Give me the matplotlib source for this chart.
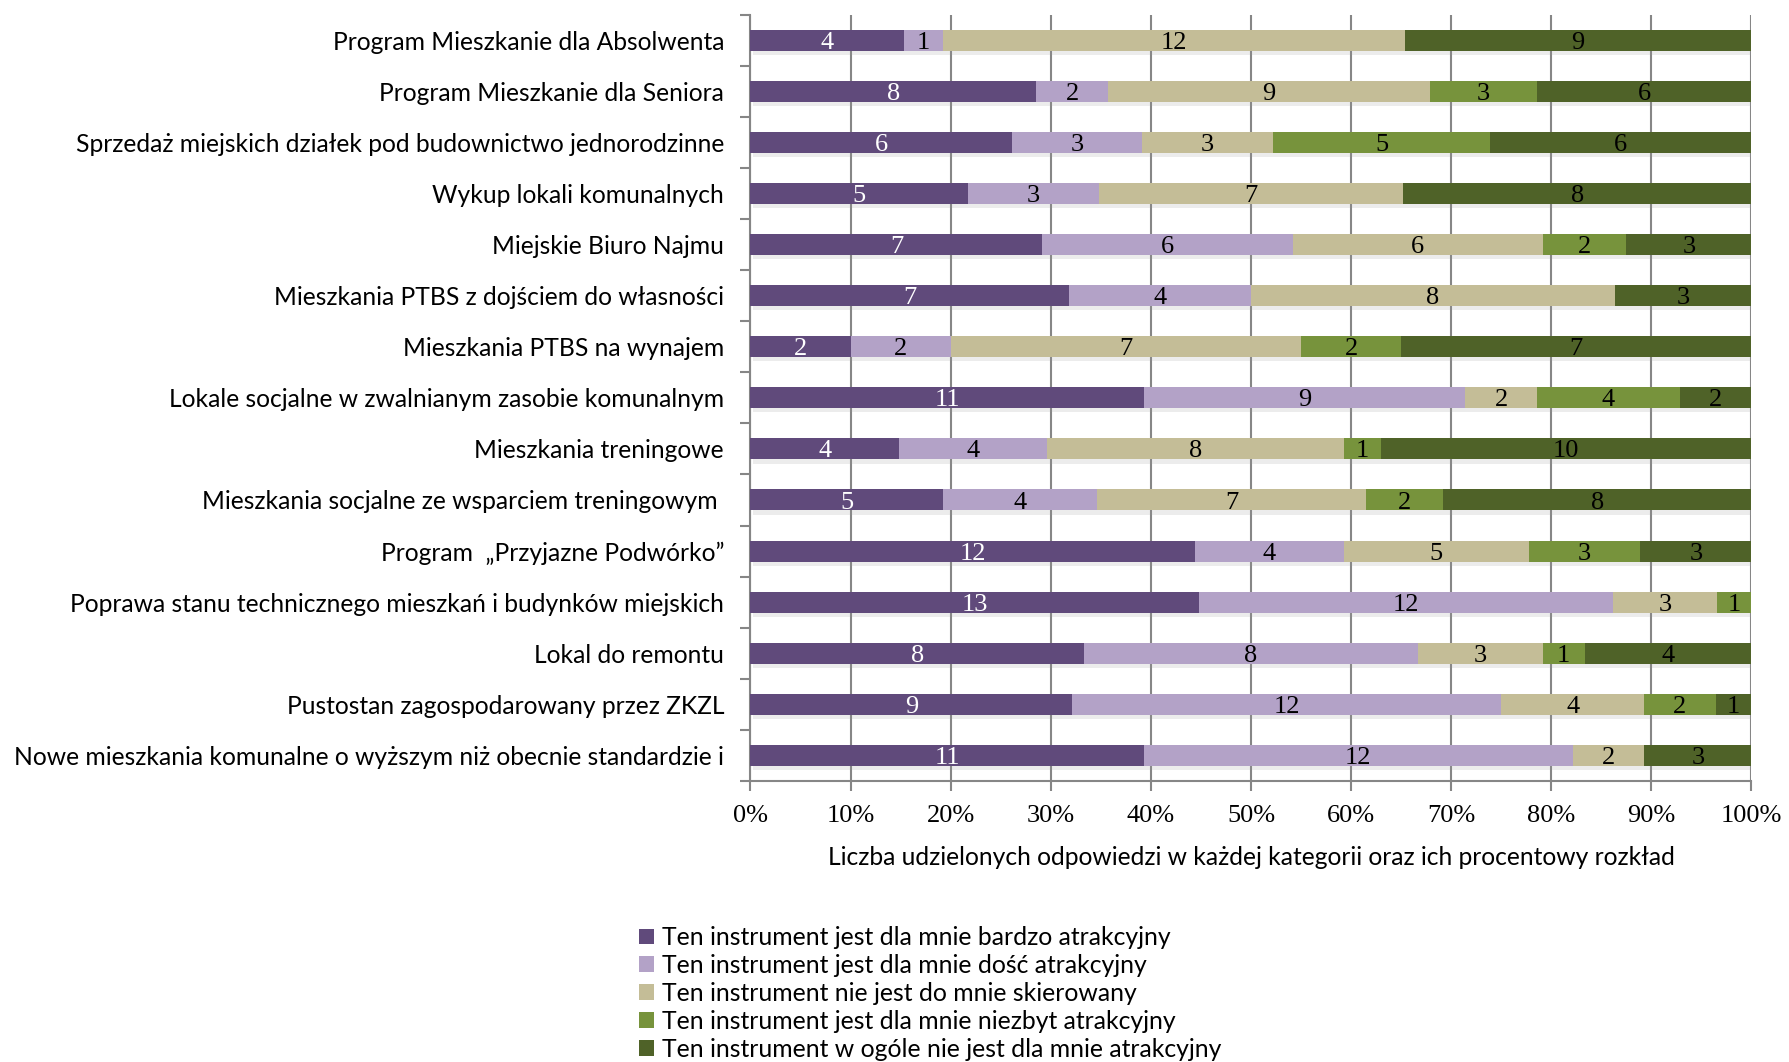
import matplotlib
matplotlib.use("Agg")
import matplotlib.pyplot as plt
import matplotlib.patheffects as pe
from matplotlib.patches import Patch
import numpy as np

categories = [
    "Program Mieszkanie dla Absolwenta",
    "Program Mieszkanie dla Seniora",
    "Sprzedaż miejskich działek pod budownictwo jednorodzinne",
    "Wykup lokali komunalnych",
    "Miejskie Biuro Najmu",
    "Mieszkania PTBS z dojściem do własności",
    "Mieszkania PTBS na wynajem",
    "Lokale socjalne w zwalnianym zasobie komunalnym",
    "Mieszkania treningowe",
    "Mieszkania socjalne ze wsparciem treningowym ",
    "Program  „Przyjazne Podwórko”",
    "Poprawa stanu technicznego mieszkań i budynków miejskich",
    "Lokal do remontu",
    "Pustostan zagospodarowany przez ZKZL",
    "Nowe mieszkania komunalne o wyższym niż obecnie standardzie i",
]

bardzo_atrakcyjny = [4, 8, 6, 5, 7, 7, 2, 11, 4, 5, 12, 13, 8, 9, 11]
dosc_atrakcyjny = [1, 2, 3, 3, 6, 4, 2, 9, 4, 4, 4, 12, 8, 12, 12]
nie_skierowany = [12, 9, 3, 7, 6, 8, 7, 2, 8, 7, 5, 3, 3, 4, 2]
niezbyt_atrakcyjny = [0, 3, 5, 0, 2, 0, 2, 4, 1, 2, 3, 1, 1, 2, 0]
wcale_nieatrakcyjny = [9, 6, 6, 8, 3, 3, 7, 2, 10, 8, 3, 0, 4, 1, 3]

series_labels = [
    "Ten instrument jest dla mnie bardzo atrakcyjny",
    "Ten instrument jest dla mnie dość atrakcyjny",
    "Ten instrument nie jest do mnie skierowany",
    "Ten instrument jest dla mnie niezbyt atrakcyjny",
    "Ten instrument w ogóle nie jest dla mnie atrakcyjny",
]
colors = ["#604A7B", "#B3A2C7", "#C4BD97", "#77933C", "#4F6228"]
text_colors = ["white", "black", "black", "black", "black"]

x_ticklabels = ["0%", "10%", "20%", "30%", "40%", "50%", "60%", "70%", "80%", "90%", "100%"]
x_label = "Liczba udzielonych odpowiedzi w każdej kategorii oraz ich procentowy rozkład"

SANS = ["Lato", "DejaVu Sans"]
SERIF = ["Liberation Serif", "DejaVu Serif"]

counts = np.array([bardzo_atrakcyjny, dosc_atrakcyjny, nie_skierowany,
                   niezbyt_atrakcyjny, wcale_nieatrakcyjny], dtype=float)
totals = counts.sum(axis=0)
shares = counts / totals * 100

fig = plt.figure(figsize=(17.89, 10.62), dpi=100)
ax = fig.add_axes([0.4195, 0.2646, 0.5595, 0.7217])

y = np.arange(len(categories))
left = np.zeros(len(categories))
shadow = [pe.SimplePatchShadow(offset=(1.5, -3), shadow_rgbFace="#9a9a9a", alpha=0.18), pe.Normal()]
for k in range(len(series_labels)):
    bars = ax.barh(y, shares[k], left=left, height=0.41, color=colors[k],
                   label=series_labels[k], zorder=3)
    for b in bars:
        b.set_path_effects(shadow)
    for i in range(len(categories)):
        if counts[k, i] > 0:
            ax.text(left[i] + shares[k, i] / 2, y[i] + 0.05, f"{int(counts[k, i])}",
                    ha="center", va="center", fontsize=19, family=SERIF,
                    color=text_colors[k], zorder=4)
    left += shares[k]

ax.set_xlim(0, 100)
ax.set_ylim(len(categories) - 0.5, -0.5)

ax.set_xticks(np.arange(0, 101, 10))
ax.set_xticklabels(x_ticklabels, family=SERIF, fontsize=19)
ax.tick_params(axis="x", length=7, width=1.5, color="#868686", pad=10)
ax.grid(axis="x", color="#868686", linewidth=1.5, zorder=0)
ax.set_axisbelow(True)

ax.set_yticks(y)
ax.set_yticklabels(categories, family=SANS, fontsize=17.7)
ax.tick_params(axis="y", which="major", length=0, pad=19)
ax.set_yticks(np.arange(-0.5, len(categories), 1), minor=True)
ax.tick_params(axis="y", which="minor", length=7, width=1.5, color="#868686")

for side in ("top", "right"):
    ax.spines[side].set_visible(False)
for side in ("left", "bottom"):
    ax.spines[side].set_color("#868686")
    ax.spines[side].set_linewidth(1.5)

ax.set_xlabel(x_label, family=SANS, fontsize=17.7, labelpad=14)

handles = [Patch(facecolor=c) for c in colors]
fig.legend(handles, series_labels, loc="upper left",
           bbox_to_anchor=(0.357, 0.128), frameon=False,
           prop={"family": SANS, "size": 17.8},
           handlelength=0.6, handleheight=0.6, handletextpad=0.35,
           labelspacing=0.2, borderaxespad=0, borderpad=0)

fig.savefig("out.png", dpi=100)
